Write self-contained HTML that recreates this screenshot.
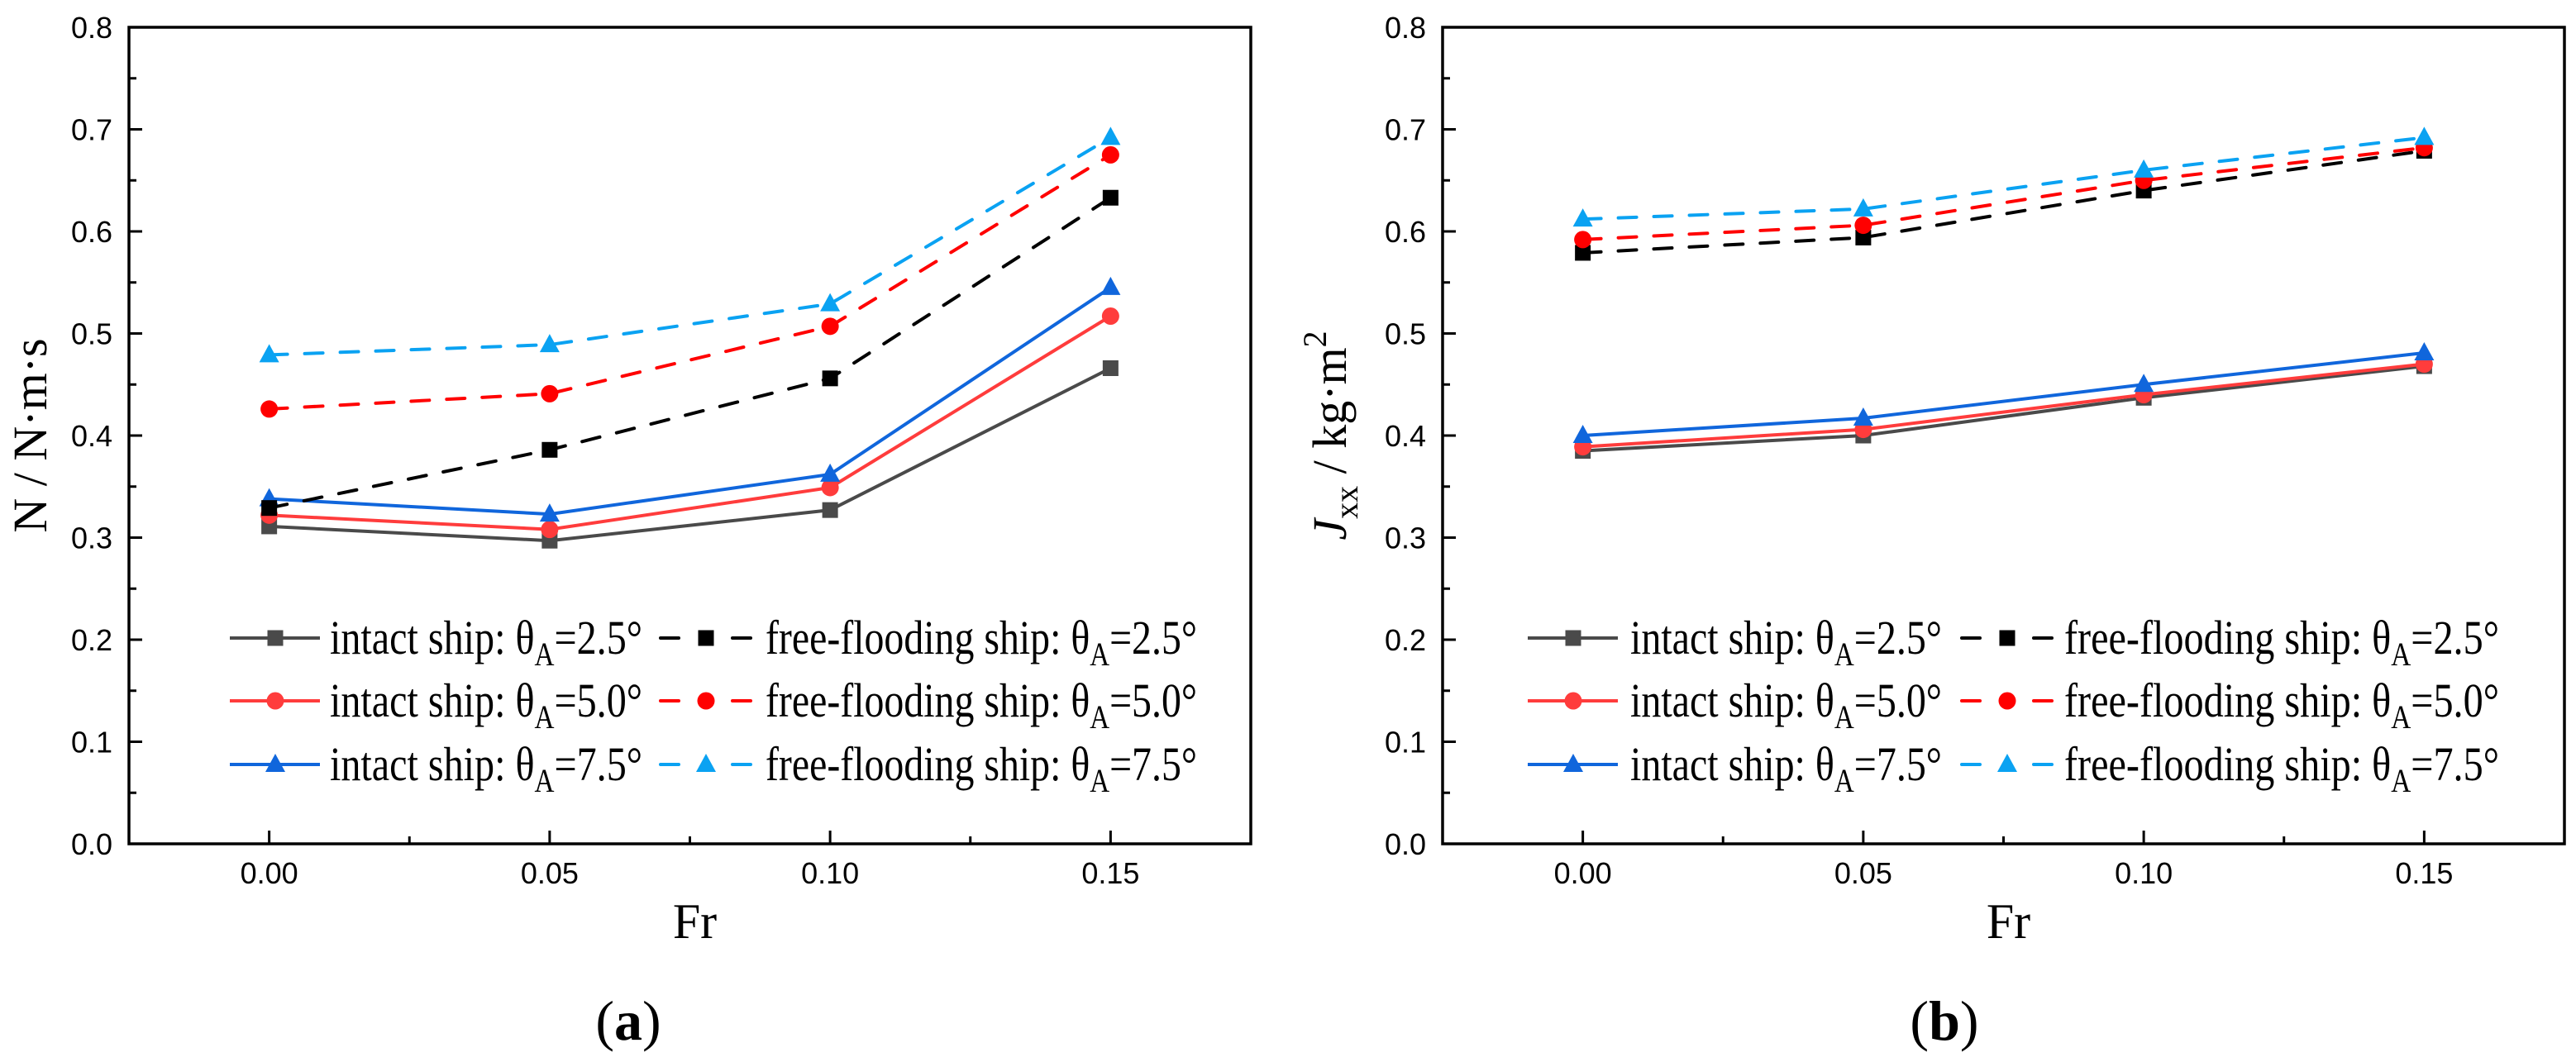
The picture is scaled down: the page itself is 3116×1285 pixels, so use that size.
<!DOCTYPE html>
<html><head><meta charset="utf-8"><style>
html,body{margin:0;padding:0;background:#fff;}
svg{display:block;}
</style></head><body>
<svg id="fig" width="3116" height="1285" viewBox="0 0 3116 1285" xmlns="http://www.w3.org/2000/svg"></svg>
<script>
const frValues = [0.00, 0.05, 0.10, 0.15];
const xTicks = ["0.00", "0.05", "0.10", "0.15"];
const yTicks = ["0.0", "0.1", "0.2", "0.3", "0.4", "0.5", "0.6", "0.7", "0.8"];
const seriesLabels = ["2.5", "5.0", "7.5"];
// Panel (a): N
const aIntact25 = [0.311, 0.297, 0.327, 0.466];
const aIntact50 = [0.322, 0.308, 0.349, 0.517];
const aIntact75 = [0.338, 0.323, 0.362, 0.545];
const aFlood25 = [0.329, 0.386, 0.456, 0.633];
const aFlood50 = [0.426, 0.441, 0.507, 0.675];
const aFlood75 = [0.479, 0.489, 0.529, 0.692];
// Panel (b): Jxx
const bIntact25 = [0.385, 0.400, 0.437, 0.468];
const bIntact50 = [0.389, 0.406, 0.440, 0.470];
const bIntact75 = [0.400, 0.417, 0.450, 0.481];
const bFlood25 = [0.579, 0.594, 0.640, 0.679];
const bFlood50 = [0.592, 0.606, 0.650, 0.682];
const bFlood75 = [0.612, 0.622, 0.660, 0.692];

const NS = "http://www.w3.org/2000/svg";
const svg = document.getElementById('fig');
function mk(tag, attrs, parent) {
  const e = document.createElementNS(NS, tag);
  for (const k in attrs) e.setAttribute(k, attrs[k]);
  (parent || svg).appendChild(e);
  return e;
}
const styles = [
  {color:"#4a4a4a", dash:null, marker:"square"},
  {color:"#ff3c3c", dash:null, marker:"circle"},
  {color:"#1066dc", dash:null, marker:"triangle"},
  {color:"#000000", dash:"22 21", marker:"square"},
  {color:"#ff0000", dash:"22 21", marker:"circle"},
  {color:"#0aa2f2", dash:"22 21", marker:"triangle"}
];
function marker(g, type, cx, cy, color) {
  let m;
  if (type === "square") m = mk('rect', {x:cx-9.5, y:cy-9.5, width:19, height:19, fill:color}, g);
  else if (type === "circle") m = mk('circle', {cx:cx, cy:cy, r:10.5, fill:color}, g);
  else m = mk('polygon', {points:`${cx},${cy-13} ${cx+12},${cy+9} ${cx-12},${cy+9}`, fill:color}, g);
  return m;
}
function panel(p) {
  const g = mk('g', {});
  
  
  const X = v => p.x0 + (v - (-0.025)) / 0.2 * (p.x1 - p.x0);
  const Y = v => p.y1 - v / 0.8 * (p.y1 - p.y0);
  // series
  p.series.forEach((vals, si) => {
    const st = styles[si];
    const sg = mk('g', {}, g);
    
    
    const pts = vals.map((v, i) => X(frValues[i]) + ',' + Y(v)).join(' ');
    const pl = mk('polyline', {points:pts, fill:'none', stroke:st.color, 'stroke-width':4, 'stroke-linecap': st.dash ? 'round' : 'butt'}, sg);
    if (st.dash) pl.setAttribute('stroke-dasharray', st.dash);
    vals.forEach((v, i) => {
      const m = marker(sg, st.marker, X(frValues[i]), Y(v), st.color);
      
      
    });
  });
  // axes box
  const box = mk('rect', {x:p.x0, y:p.y0, width:p.x1-p.x0, height:p.y1-p.y0, fill:'none', stroke:'#000', 'stroke-width':3.5}, g);
  
  
  // y ticks
  yTicks.forEach((t, i) => {
    const v = parseFloat(t);
    const y = Y(v);
    mk('line', {x1:p.x0, x2:p.x0+16, y1:y, y2:y, stroke:'#000', 'stroke-width':3}, g);
    if (i < yTicks.length - 1) { const ym = Y(v + 0.05); mk('line', {x1:p.x0, x2:p.x0+9, y1:ym, y2:ym, stroke:'#000', 'stroke-width':3}, g); }
    const tx = mk('text', {x:p.x0-20, y:y+13, 'text-anchor':'end', 'font-family':'Liberation Sans, sans-serif', 'font-size':36, fill:'#000'}, g);
    tx.textContent = t;
    
    
  });
  // x ticks
  xTicks.forEach((t, i) => {
    const v = parseFloat(t);
    const x = X(v);
    mk('line', {x1:x, x2:x, y1:p.y1, y2:p.y1-16, stroke:'#000', 'stroke-width':3}, g);
    const xm = X(v + 0.025);
    mk('line', {x1:xm, x2:xm, y1:p.y1, y2:p.y1-9, stroke:'#000', 'stroke-width':3}, g);
    const tx = mk('text', {x:x, y:p.y1+48, 'text-anchor':'middle', 'font-family':'Liberation Sans, sans-serif', 'font-size':36, fill:'#000'}, g);
    tx.textContent = t;
    
    
  });
  // x title
  const xt = mk('text', {x:(p.x0+p.x1)/2 + 6, y:1135, 'text-anchor':'middle', 'font-family':'Liberation Serif, serif', 'font-size':60, fill:'#000'}, g);
  xt.textContent = 'Fr';
  
  
  // y title
  const yt = mk('text', {transform:`translate(${p.ytx},527) rotate(-90)`, 'text-anchor':'middle', 'font-family':'Liberation Serif, serif', 'font-size':58, fill:'#000'}, g);
  
  
  yt.innerHTML = p.ytitle;
  // panel label
  const pl = mk('text', {x:p.labx, y:1258, 'text-anchor':'middle', 'font-family':'Liberation Serif, serif', 'font-size':68, fill:'#000'}, g);
  pl.innerHTML = '(<tspan font-weight="bold">' + p.letter + '</tspan>)';
  
  
  // legend
  const lg = mk('g', {}, g);
  
  
  const rowsY = [772, 848, 925];
  for (let col = 0; col < 2; col++) {
    for (let r = 0; r < 3; r++) {
      const si = col * 3 + r;
      const st = styles[si];
      const e = mk('g', {}, lg);
      
      
      const lx0 = col ? p.leg.dx0 : p.leg.lx0;
      const y = rowsY[r];
      const ln = mk('line', {x1:lx0, x2:lx0+109, y1:y, y2:y, stroke:st.color, 'stroke-width':4}, e);
      if (st.dash) { ln.setAttribute('stroke-dasharray', '22 65'); ln.setAttribute('stroke-dashoffset', '0'); ln.setAttribute('stroke-linecap','round'); }
      marker(e, st.marker, lx0 + 55, y, st.color);
      const tx0 = col ? p.leg.dt0 : p.leg.lt0;
      const tl = col ? p.leg.dtl : p.leg.ltl;
      const tx = mk('text', {x:tx0, y:y+19, 'font-family':'Liberation Serif, serif', 'font-size':58, fill:'#000', textLength:tl, lengthAdjust:'spacingAndGlyphs'}, e);
      tx.innerHTML = (col ? 'free-flooding ship: θ' : 'intact ship: θ') + '<tspan font-size="40" dy="14">A</tspan><tspan dy="-14">=' + seriesLabels[r] + '°</tspan>';
    }
  }
}
panel({name:'chart-a', x0:156, x1:1513, y0:33, y1:1021, ytx:56, labx:760, letter:'a',
  ytitle:'N / N·m·s',
  series:[aIntact25, aIntact50, aIntact75, aFlood25, aFlood50, aFlood75],
  leg:{lx0:278, lt0:399, ltl:378, dx0:799, dt0:926, dtl:522}});
panel({name:'chart-b', x0:1745, x1:3102, y0:33, y1:1021, ytx:1628, labx:2352, letter:'b',
  ytitle:'<tspan font-style="italic">J</tspan><tspan font-size="40" dy="14">xx</tspan><tspan dy="-14"> / kg·m</tspan><tspan font-size="40" dy="-24">2</tspan>',
  series:[bIntact25, bIntact50, bIntact75, bFlood25, bFlood50, bFlood75],
  leg:{lx0:1848, lt0:1972, ltl:377, dx0:2373, dt0:2497, dtl:526}});
</script>
</body></html>
